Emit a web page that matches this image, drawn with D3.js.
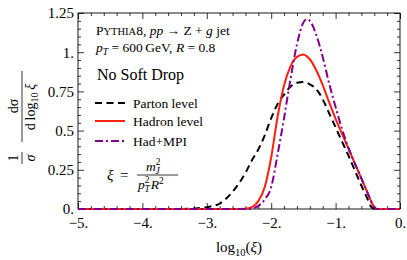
<!DOCTYPE html>
<html><head><meta charset="utf-8">
<script src="https://cdn.jsdelivr.net/npm/d3@7"></script>
<style>
body{margin:0;background:#fff;}
svg text, svg tspan{font-family:"Liberation Serif","Times New Roman",Times,"DejaVu Serif","Noto Serif",serif !important;fill:#000;}
</style></head>
<body><svg id="c" width="407" height="260"></svg>
<script>
const xs      = [-5, -3.4, -3.2, -3.0, -2.8, -2.6, -2.4, -2.3, -2.2, -2.1, -2.0, -1.9, -1.8, -1.7, -1.6, -1.5, -1.45, -1.4, -1.3, -1.2, -1.1, -1.0, -0.9, -0.8, -0.7, -0.6, -0.5, -0.45, -0.4, -0.35, 0];
const parton  = [0, 0, 0.003, 0.012, 0.035, 0.11, 0.23, 0.31, 0.38, 0.47, 0.58, 0.67, 0.73, 0.78, 0.805, 0.81, 0.805, 0.795, 0.765, 0.70, 0.61, 0.52, 0.43, 0.34, 0.245, 0.15, 0.06, 0.015, 0.001, 0, 0];
const hadron  = [0, 0, 0, 0, 0, 0, 0.002, 0.012, 0.05, 0.14, 0.33, 0.59, 0.79, 0.91, 0.97, 0.985, 0.975, 0.955, 0.885, 0.79, 0.68, 0.575, 0.48, 0.385, 0.29, 0.195, 0.10, 0.05, 0.012, 0, 0];
const hadmpi  = [0, 0, 0, 0, 0, 0, 0, 0.003, 0.02, 0.06, 0.14, 0.35, 0.58, 0.83, 1.05, 1.19, 1.21, 1.20, 1.11, 0.97, 0.80, 0.65, 0.51, 0.39, 0.29, 0.195, 0.10, 0.05, 0.012, 0, 0];
const seriesNames = ["Parton level", "Hadron level", "Had+MPI"];
const xTicks = [-5, -4, -3, -2, -1, 0];
const yTicks = [0, 0.25, 0.5, 0.75, 1, 1.25];

const FONT = '"Liberation Serif","Times New Roman",Times,"DejaVu Serif","Noto Serif",serif';
const svg = d3.select("#c").attr("font-family", FONT);
const L = 78, R = 400, T = 13, B = 209;
const x = d3.scaleLinear().domain([-5, 0]).range([L, R]);
const y = d3.scaleLinear().domain([0, 1.25]).range([B, T]);
const fmt = d => (Number.isInteger(d) ? d + "." : String(d)).replace("-", "\u2212");

const xMinor = d3.range(-5, 0.001, 0.2).map(v => +v.toFixed(2)).filter(v => !xTicks.some(t => Math.abs(t - v) < 1e-6));
const yMinor = d3.range(0, 1.2501, 0.05).map(v => +v.toFixed(2)).filter(v => !yTicks.some(t => Math.abs(t - v) < 1e-6));

function styleAxis(g){ g.attr("font-family", FONT).attr("font-size", 15); g.select(".domain").remove(); g.selectAll("line").attr("stroke","#000").attr("stroke-width",0.8); g.selectAll("text").attr("font-family", FONT).style("font-size","15px"); }

svg.append("g").attr("transform",`translate(0,${B})`).call(d3.axisBottom(x).tickValues(xTicks).tickSize(-6).tickPadding(8).tickFormat(fmt)).call(styleAxis);
svg.append("g").attr("transform",`translate(0,${B})`).call(d3.axisBottom(x).tickValues(xMinor).tickSize(-3).tickFormat("")).call(styleAxis);
svg.append("g").attr("transform",`translate(0,${T})`).call(d3.axisTop(x).tickValues(xTicks).tickSize(-6).tickFormat("")).call(styleAxis);
svg.append("g").attr("transform",`translate(0,${T})`).call(d3.axisTop(x).tickValues(xMinor).tickSize(-3).tickFormat("")).call(styleAxis);
svg.append("g").attr("transform",`translate(${L},0)`).call(d3.axisLeft(y).tickValues(yTicks).tickSize(-6).tickPadding(4).tickFormat(fmt)).call(styleAxis);
svg.append("g").attr("transform",`translate(${L},0)`).call(d3.axisLeft(y).tickValues(yMinor).tickSize(-3).tickFormat("")).call(styleAxis);
svg.append("g").attr("transform",`translate(${R},0)`).call(d3.axisRight(y).tickValues(yTicks).tickSize(-6).tickFormat("")).call(styleAxis);
svg.append("g").attr("transform",`translate(${R},0)`).call(d3.axisRight(y).tickValues(yMinor).tickSize(-3).tickFormat("")).call(styleAxis);

svg.append("rect").attr("x",L).attr("y",T).attr("width",R-L).attr("height",B-T).attr("fill","none").attr("stroke","#000").attr("stroke-width",0.9);

const line = d3.line().x((d,i)=>x(xs[i])).y(d=>y(d)).curve(d3.curveMonotoneX);
const styles = [
  {data: parton, color:"#000000", dash:"7,4.5"},
  {data: hadron, color:"#ff2010", dash:null},
  {data: hadmpi, color:"#800088", dash:"8,3,2,3"}
];
svg.append("clipPath").attr("id","pc").append("rect").attr("x",L).attr("y",T-2).attr("width",R-L).attr("height",B-T+4);
styles.forEach(s=>{
  svg.append("path").attr("d",line(s.data)).attr("fill","none").attr("stroke",s.color).attr("stroke-width",2).attr("stroke-dasharray",s.dash).attr("clip-path","url(#pc)");
});

// Annotations
const t1 = svg.append("text").attr("x",96).attr("y",35).style("font-size","13.5px");
t1.append("tspan").text("P");
t1.append("tspan").style("font-size","10.5px").text("YTHIA");
t1.append("tspan").text("8, ");
t1.append("tspan").style("font-style","italic").text("pp");
t1.append("tspan").text(" \u2192 Z + ");
t1.append("tspan").style("font-style","italic").text("g");
t1.append("tspan").text(" jet");

const t2 = svg.append("text").attr("x",96).attr("y",52).style("font-size","13.5px");
t2.append("tspan").style("font-style","italic").text("p");
t2.append("tspan").style("font-style","italic").style("font-size","9.5px").attr("dy",3).text("T");
t2.append("tspan").attr("dy",-3).text(" = 600\u2009GeV, ");
t2.append("tspan").style("font-style","italic").text("R");
t2.append("tspan").text(" = 0.8");

svg.append("text").attr("x",97).attr("y",80).style("font-size","16px").text("No Soft Drop");

// Legend
const legY = [103, 121, 141];
styles.forEach((s,i)=>{
  svg.append("line").attr("x1",95).attr("x2",125).attr("y1",legY[i]).attr("y2",legY[i]).attr("stroke",s.color).attr("stroke-width",2).attr("stroke-dasharray",s.dash);
  svg.append("text").attr("x",133).attr("y",legY[i]+4.5).style("font-size","13.5px").text(seriesNames[i]);
});

// Formula xi = m_J^2 / (p_T^2 R^2)
const fg = svg.append("g");
fg.append("text").attr("x",107).attr("y",180).style("font-size","15px").style("font-style","italic").text("\u03be");
fg.append("text").attr("x",120).attr("y",180).style("font-size","15px").text("=");
fg.append("line").attr("x1",137).attr("x2",178).attr("y1",175).attr("y2",175).attr("stroke","#000").attr("stroke-width",0.8);
const num = fg.append("text").attr("x",146).attr("y",171).style("font-size","13.5px");
num.append("tspan").style("font-style","italic").text("m");
num.append("tspan").style("font-size","9.5px").attr("dy",-6).text("2");
num.append("tspan").style("font-size","9.5px").style("font-style","italic").attr("dx",-5).attr("dy",9).text("J");
const den = fg.append("text").attr("x",138).attr("y",189).style("font-size","13.5px");
den.append("tspan").style("font-style","italic").text("p");
den.append("tspan").style("font-size","9.5px").attr("dy",-6).text("2");
den.append("tspan").style("font-size","9.5px").style("font-style","italic").attr("dx",-5).attr("dy",9).text("T");
den.append("tspan").style("font-style","italic").attr("dy",-3).attr("dx",1).text("R");
den.append("tspan").style("font-size","9.5px").attr("dy",-5).text("2");

// X label
const xl = svg.append("text").attr("x",239).attr("y",252).attr("text-anchor","middle").style("font-size","15px");
xl.append("tspan").text("log");
xl.append("tspan").style("font-size","10.5px").attr("dy",4).text("10");
xl.append("tspan").attr("dy",-4).text("(");
xl.append("tspan").style("font-style","italic").text("\u03be");
xl.append("tspan").text(")");

// Y label (rotated)
const yl = svg.append("g").attr("transform","translate(22,118) rotate(-90)");
yl.append("text").attr("x",-40).attr("y",-4).attr("text-anchor","middle").style("font-size","14px").text("1");
yl.append("line").attr("x1",-46).attr("x2",-34).attr("y1",0).attr("y2",0).attr("stroke","#000").attr("stroke-width",0.8);
yl.append("text").attr("x",-40).attr("y",13).attr("text-anchor","middle").style("font-size","14px").style("font-style","italic").text("\u03c3");
yl.append("text").attr("x",12).attr("y",-4).attr("text-anchor","middle").style("font-size","14px").text("d\u03c3");
yl.append("line").attr("x1",-24).attr("x2",47).attr("y1",0).attr("y2",0).attr("stroke","#000").attr("stroke-width",0.8);
const yd = yl.append("text").attr("x",11).attr("y",13).attr("text-anchor","middle").style("font-size","14px");
yd.append("tspan").text("d\u2009log");
yd.append("tspan").style("font-size","10px").attr("dy",3).text("10");
yd.append("tspan").attr("dy",-3).style("font-style","italic").text("\u2009\u03be");
</script></body></html>
